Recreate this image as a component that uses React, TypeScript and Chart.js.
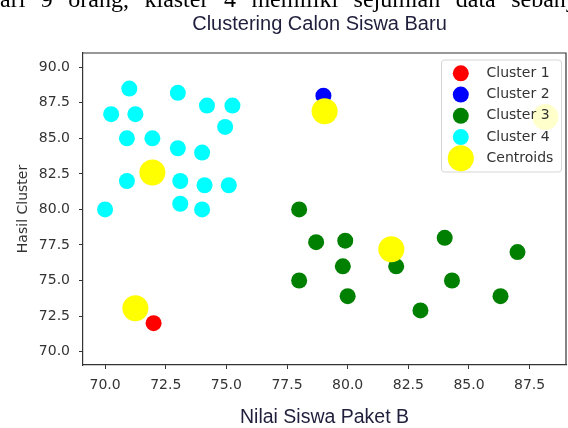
import React, { useEffect, useRef } from "react";
import { Chart, registerables } from "chart.js";

Chart.register(...registerables);

// ---- text ----
const headerText = "dari 9 orang, klaster 4 memiliki sejumlah data sebanyak";
const chartTitle = "Clustering Calon Siswa Baru";
const xAxisTitle = "Nilai Siswa Paket B";
const yAxisTitle = "Hasil Cluster";

// ---- series ----
const seriesLabels = ["Cluster 1", "Cluster 2", "Cluster 3", "Cluster 4", "Centroids"];
const seriesColors = ["#ff0000", "#0000ff", "#008000", "#00ffff", "#ffff00"];

const cluster1X = [72];
const cluster1Y = [72];

const cluster2X = [79];
const cluster2Y = [88];

const cluster3X = [78, 78.7, 79.9, 79.8, 78, 80, 82, 83, 84, 84.3, 86.3, 87];
const cluster3Y = [80, 77.7, 77.8, 76, 75, 73.9, 76, 72.9, 78, 75, 73.9, 77];

const cluster4X = [71, 73, 74.2, 75.25, 70.25, 71.25, 74.95, 70.9, 71.95, 73, 74, 70.9, 73.1, 74.1, 75.1, 70, 73.1, 74];
const cluster4Y = [88.5, 88.2, 87.3, 87.3, 86.7, 86.7, 85.8, 85, 85, 84.3, 84, 82, 82, 81.7, 81.7, 80, 80.4, 80];

const centroidX = [71.95, 71.25, 79.05, 81.8, 88.15];
const centroidY = [82.6, 73.05, 86.9, 77.2, 86.5];

// ---- axes ----
const xTicks = [70, 72.5, 75, 77.5, 80, 82.5, 85, 87.5];
const yTicks = [70, 72.5, 75, 77.5, 80, 82.5, 85, 87.5, 90];
const xRange = [69.09, 89.0];
const yRange = [69.06, 91.0];

const toPoints = (xs: number[], ys: number[]) => xs.map((x, i) => ({ x, y: ys[i] }));

const TITLE_COLOR = "#1f1f3d";
const TEXT_COLOR = "#333333";
const SANS = "'Liberation Sans', Arial, sans-serif";
const DEJAVU = "'DejaVu Sans', sans-serif";

const framePlugin = {
  id: "frameSpines",
  afterDatasetsDraw(chart: any) {
    const { ctx, chartArea } = chart;
    ctx.save();
    ctx.strokeStyle = "#333333";
    ctx.lineWidth = 1.2;
    ctx.beginPath();
    ctx.moveTo(chartArea.left, chartArea.top);
    ctx.lineTo(chartArea.right, chartArea.top);
    ctx.lineTo(chartArea.right, chartArea.bottom);
    ctx.stroke();
    ctx.restore();
  },
};

const figureTitlePlugin = {
  id: "figureTitle",
  afterDraw(chart: any) {
    const { ctx } = chart;
    ctx.save();
    ctx.fillStyle = TITLE_COLOR;
    ctx.font = `20px ${SANS}`;
    ctx.textAlign = "center";
    ctx.textBaseline = "alphabetic";
    ctx.fillText(chartTitle, 319.5, 29.7);
    ctx.restore();
  },
};

const boxLegendPlugin = {
  id: "boxLegend",
  afterDraw(chart: any) {
    const { ctx, chartArea } = chart;
    const w = 120;
    const h = 112;
    const x0 = chartArea.right - w - 4.5;
    const y0 = chartArea.top + 7;
    const r = 3;
    ctx.save();
    ctx.beginPath();
    ctx.moveTo(x0 + r, y0);
    ctx.lineTo(x0 + w - r, y0);
    ctx.arcTo(x0 + w, y0, x0 + w, y0 + r, r);
    ctx.lineTo(x0 + w, y0 + h - r);
    ctx.arcTo(x0 + w, y0 + h, x0 + w - r, y0 + h, r);
    ctx.lineTo(x0 + r, y0 + h);
    ctx.arcTo(x0, y0 + h, x0, y0 + h - r, r);
    ctx.lineTo(x0, y0 + r);
    ctx.arcTo(x0, y0, x0 + r, y0, r);
    ctx.closePath();
    ctx.fillStyle = "rgba(255,255,255,0.8)";
    ctx.fill();
    ctx.strokeStyle = "rgba(204,204,204,0.8)";
    ctx.lineWidth = 1;
    ctx.stroke();
    chart.data.datasets.forEach((ds: any, i: number) => {
      const cy = y0 + 13.3 + i * 21.25;
      ctx.beginPath();
      ctx.arc(x0 + 19.3, cy, ds.pointRadius, 0, Math.PI * 2);
      ctx.fillStyle = ds.backgroundColor;
      ctx.fill();
      ctx.fillStyle = TEXT_COLOR;
      ctx.font = `14px ${DEJAVU}`;
      ctx.textBaseline = "middle";
      ctx.textAlign = "left";
      ctx.fillText(ds.label, x0 + 45, cy);
    });
    ctx.restore();
  },
};

export default function App() {
  const canvasRef = useRef<HTMLCanvasElement | null>(null);

  useEffect(() => {
    if (!canvasRef.current) return;
    const seriesX = [cluster1X, cluster2X, cluster3X, cluster4X, centroidX];
    const seriesY = [cluster1Y, cluster2Y, cluster3Y, cluster4Y, centroidY];
    const datasets = seriesLabels.map((label, i) => {
      const isCentroid = i === seriesLabels.length - 1;
      return {
        label,
        data: toPoints(seriesX[i], seriesY[i]),
        backgroundColor: seriesColors[i],
        borderColor: seriesColors[i],
        borderWidth: 0,
        pointRadius: isCentroid ? 13 : 8,
        pointHoverRadius: isCentroid ? 13 : 8,
        pointStyle: "circle",
        order: isCentroid ? 0 : 1,
      };
    });

    const chart = new Chart(canvasRef.current, {
      type: "scatter",
      data: { datasets },
      options: {
        responsive: false,
        devicePixelRatio: 1,
        animation: false,
        events: [],
        layout: { autoPadding: false, padding: { top: 53, left: 0, right: 2, bottom: 0 } },
        plugins: {
          legend: { display: false },
          tooltip: { enabled: false },
          title: { display: false },
        },
        scales: {
          x: {
            type: "linear",
            position: "bottom",
            min: xRange[0],
            max: xRange[1],
            afterBuildTicks: (s: any) => {
              s.ticks = xTicks.map((v) => ({ value: v }));
            },
            afterFit: (s: any) => {
              s.height = 63;
              s.paddingLeft = 0;
              s.paddingRight = 0;
            },
            ticks: {
              autoSkip: false,
              maxRotation: 0,
              color: TEXT_COLOR,
              font: { family: DEJAVU, size: 14 },
              padding: 7.5,
              callback: (v: any) => Number(v).toFixed(1),
            },
            grid: { display: true, drawOnChartArea: false, drawTicks: true, tickLength: 4, color: "#333333", lineWidth: 1 },
            border: { display: true, color: "#333333", width: 1.2 },
            title: {
              display: true,
              text: xAxisTitle,
              color: TITLE_COLOR,
              font: { family: SANS, size: 19.5, lineHeight: 1 },
              padding: { top: 0, bottom: 0.3 },
            },
          },
          y: {
            type: "linear",
            position: "left",
            min: yRange[0],
            max: yRange[1],
            afterBuildTicks: (s: any) => {
              s.ticks = yTicks.map((v) => ({ value: v }));
            },
            afterFit: (s: any) => {
              s.width = 83;
              s.paddingTop = 0;
              s.paddingBottom = 0;
            },
            ticks: {
              autoSkip: false,
              color: TEXT_COLOR,
              font: { family: DEJAVU, size: 14 },
              padding: 9,
              callback: (v: any) => Number(v).toFixed(1),
            },
            grid: { display: true, drawOnChartArea: false, drawTicks: true, tickLength: 4, color: "#333333", lineWidth: 1 },
            border: { display: true, color: "#333333", width: 1.2 },
            title: {
              display: true,
              text: yAxisTitle,
              color: TEXT_COLOR,
              font: { family: DEJAVU, size: 14 },
              padding: { top: 14.7, bottom: 0 },
            },
          },
        },
      },
      plugins: [framePlugin, boxLegendPlugin, figureTitlePlugin],
    } as any);

    return () => chart.destroy();
  }, []);

  return (
    <div
      style={{
        position: "absolute",
        left: 0,
        top: 0,
        width: 568,
        height: 428,
        overflow: "hidden",
        background: "#ffffff",
      }}
    >
      <canvas ref={canvasRef} width={568} height={428} style={{ display: "block", position: "absolute", left: 0, top: 0 }} />
      <div
        style={{
          position: "absolute",
          left: -12,
          top: -13.1,
          fontFamily: "'Liberation Serif', 'Times New Roman', serif",
          fontSize: "24px",
          lineHeight: "24px",
          wordSpacing: "9.5px",
          whiteSpace: "nowrap",
          color: "#000000",
        }}
      >
        {headerText}
      </div>
    </div>
  );
}
